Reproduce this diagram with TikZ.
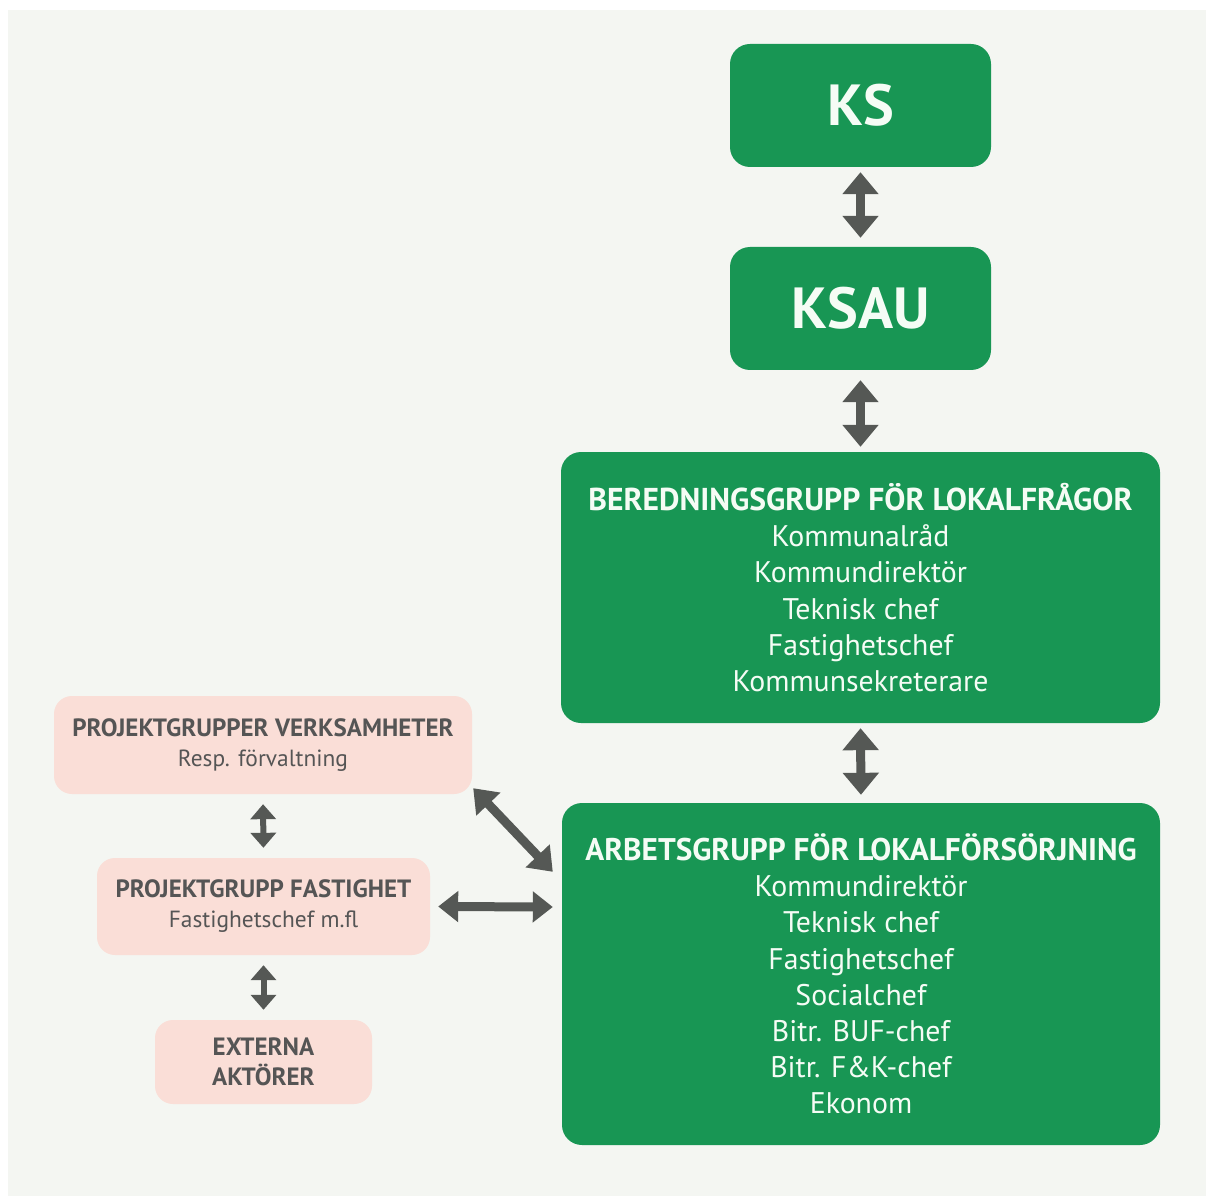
\documentclass[tikz,border=0pt]{standalone}
\usepackage{fontspec}
\setmainfont{PT Sans}
\usetikzlibrary{arrows.meta,calc}
\definecolor{bg}{RGB}{244,246,242}
\definecolor{grn}{RGB}{24,150,84}
\definecolor{pnk}{RGB}{250,222,215}
\definecolor{arr}{RGB}{85,88,85}
\definecolor{ptxt}{RGB}{85,85,85}
\definecolor{gtxt}{RGB}{245,252,245}
\begin{document}
\begin{tikzpicture}[x=1pt,y=-1pt,
  gbox/.style={fill=grn,rounded corners=20pt,inner sep=0pt,text=gtxt,align=center},
  pbox/.style={fill=pnk,rounded corners=18pt,inner sep=0pt,text=ptxt,align=center,
    font={\fontsize{23.4}{30}\selectfont}},
  bigarrow/.style={draw=arr,line width=9pt,{Triangle[length=22pt,width=35pt]}-{Triangle[length=22pt,width=35pt]}},
  smallarrow/.style={draw=arr,line width=6pt,{Triangle[length=15pt,width=25pt]}-{Triangle[length=15pt,width=25pt]}}]
\useasboundingbox (0,0) rectangle (1208,1198);
\fill[white] (0,0) rectangle (1208,1198);
\fill[bg] (8,10) rectangle (1206,1196);

\node[gbox,minimum width=261pt,minimum height=123pt,text depth=0pt,font={\fontsize{58}{60}\selectfont\bfseries}] (ks) at (860.5,105.5)
  {\raisebox{2pt}{KS}};
\node[gbox,minimum width=261pt,minimum height=123pt,text depth=0pt,font={\fontsize{58}{60}\selectfont\bfseries}] (ksau) at (860.5,308.5)
  {\raisebox{2pt}{KSAU}};
\node[gbox,minimum width=599pt,minimum height=271pt,font={\fontsize{29.8}{36.2}\selectfont}] (ber) at (860.5,587.5)
  {\textbf{\fontsize{31.6}{36.2}\selectfont BEREDNINGSGRUPP FÖR LOKALFRÅGOR}\\
   Kommunalråd\\Kommundirektör\\Teknisk chef\\Fastighetschef\\Kommunsekreterare};
\node[gbox,minimum width=598pt,minimum height=342pt,font={\fontsize{29.8}{36.2}\selectfont}] (arb) at (861,974)
  {\textbf{\fontsize{31.3}{36.2}\selectfont ARBETSGRUPP FÖR LOKALFÖRSÖRJNING}\\
   Kommundirektör\\Teknisk chef\\Fastighetschef\\Socialchef\\Bitr. BUF-chef\\Bitr. F\&K-chef\\Ekonom};

\node[pbox,minimum width=418pt,minimum height=98pt] (pv) at (263,745)
  {\textbf{\fontsize{25}{30}\selectfont PROJEKTGRUPPER VERKSAMHETER}\\Resp. förvaltning};
\node[pbox,minimum width=333pt,minimum height=97pt] (pf) at (263.5,906.5)
  {\textbf{\fontsize{25}{30}\selectfont PROJEKTGRUPP FASTIGHET}\\Fastighetschef m.fl};
\node[pbox,minimum width=217pt,minimum height=84pt,font={\fontsize{25}{30}\selectfont\bfseries}] (ea) at (263.5,1062)
  {EXTERNA\\AKTÖRER};

\draw[bigarrow,shorten <=5pt,shorten >=9pt] (ks.south) -- (ksau.north);
\draw[bigarrow,shorten <=10pt,shorten >=5pt] (ksau.south) -- (ber.north);
\draw[bigarrow,shorten <=5pt,shorten >=8pt] (ber.south) -- (arb.north);
\draw[smallarrow,shorten <=10pt,shorten >=10pt] (pv.south) -- (pf.north);
\draw[smallarrow,shorten <=10pt,shorten >=10pt] (pf.south) -- (ea.north);
\coordinate (hl) at ($(pf.east)+(8,0)$);
\coordinate (hr) at ($(arb.west)+(-9,-67)$);
\draw[bigarrow,{Triangle[length=20pt,width=30pt]}-{Triangle[length=20pt,width=30pt]}] (hl) -- (hr);
\coordinate (dl) at ($(pv.south east)+(1,-6)$);
\coordinate (dr) at ($(arb.north west)+(-9,69)$);
\draw[bigarrow,{Triangle[length=22pt,width=32pt]}-{Triangle[length=22pt,width=32pt]}] (dl) -- (dr);
\end{tikzpicture}
\end{document}
